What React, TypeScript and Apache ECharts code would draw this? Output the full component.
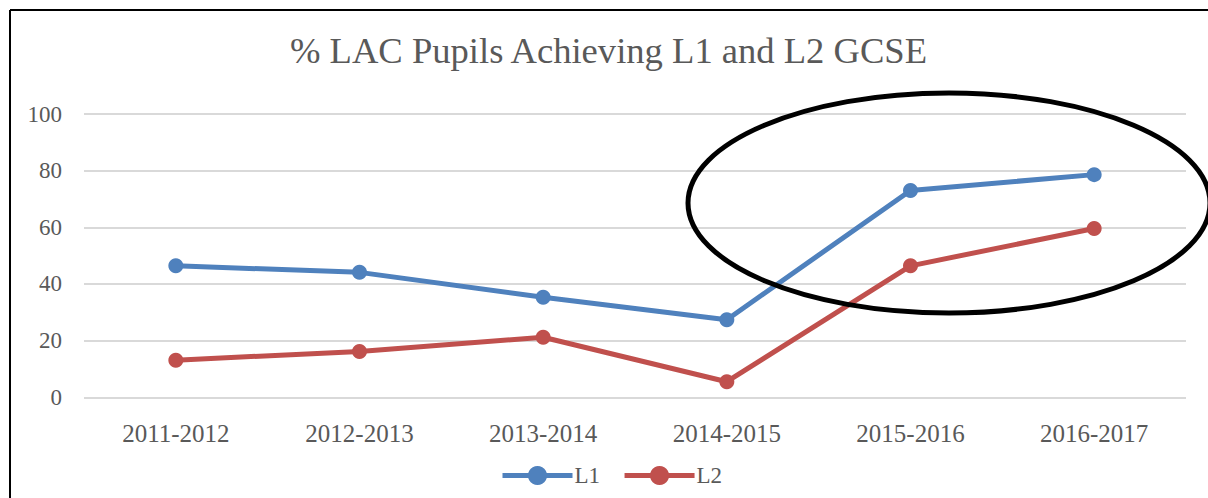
import React, { useEffect, useRef } from "react";
import * as echarts from "echarts";

const categories = ["2011-2012", "2012-2013", "2013-2014", "2014-2015", "2015-2016", "2016-2017"];
const l1Values = [46.4, 44.1, 35.3, 27.4, 73.0, 78.6];
const l2Values = [13.1, 16.2, 21.2, 5.5, 46.4, 59.6];
const seriesNames = ["L1", "L2"];
const yMin = 0;
const yMax = 100;
const yInterval = 20;
const titleText = "% LAC Pupils Achieving L1 and L2 GCSE";

const FONT = "'Liberation Serif', 'DejaVu Serif', serif";
const GREY = "#595959";

export default function App() {
  const ref = useRef<HTMLDivElement>(null);
  useEffect(() => {
    if (!ref.current) return;
    const chart = echarts.init(ref.current, undefined, { renderer: "svg" });
    chart.setOption({
      animation: false,
      backgroundColor: "#ffffff",
      title: {
        text: titleText,
        left: 285,
        top: 27,
        textStyle: { fontFamily: FONT, fontSize: 36.6, fontWeight: "normal", color: GREY },
      },
      legend: {
        bottom: 6,
        left: 495,
        itemWidth: 70,
        itemHeight: 24,
        itemGap: 22,
        lineStyle: { width: 5 },
        textStyle: { fontFamily: FONT, fontSize: 23, color: GREY, padding: [0, 0, 0, -3] },
        data: seriesNames,
      },
      grid: { left: 84, right: 22, top: 114, bottom: 100.7, containLabel: false },
      xAxis: {
        type: "category",
        data: categories,
        boundaryGap: true,
        axisLine: { show: false },
        axisTick: { show: false },
        axisLabel: { fontFamily: FONT, fontSize: 25, color: GREY, margin: 24 },
      },
      yAxis: {
        type: "value",
        min: yMin,
        max: yMax,
        interval: yInterval,
        axisLine: { show: false },
        axisTick: { show: false },
        axisLabel: { fontFamily: FONT, fontSize: 23, color: GREY, margin: 22 },
        splitLine: { lineStyle: { color: "#d9d9d9", width: 2 } },
      },
      series: [
        {
          name: seriesNames[0],
          type: "line",
          data: l1Values,
          symbol: "circle",
          symbolSize: 15,
          itemStyle: { color: "#4F81BD" },
          lineStyle: { color: "#4F81BD", width: 5 },
        },
        {
          name: seriesNames[1],
          type: "line",
          data: l2Values,
          symbol: "circle",
          symbolSize: 15,
          itemStyle: { color: "#C0504D" },
          lineStyle: { color: "#C0504D", width: 5 },
        },
      ],
      graphic: [
        {
          type: "line",
          shape: { x1: 10, y1: 10, x2: 1208, y2: 10 },
          style: { stroke: "#000", lineWidth: 2 },
          z: 100,
        },
        {
          type: "line",
          shape: { x1: 10, y1: 10, x2: 10, y2: 498 },
          style: { stroke: "#000", lineWidth: 2 },
          z: 100,
        },
        {
          type: "ellipse",
          shape: { cx: 949, cy: 203, rx: 261, ry: 110 },
          style: { stroke: "#000", lineWidth: 5, fill: "none" },
          z: 100,
        },
      ],
    });
    return () => chart.dispose();
  }, []);
  return (
    <div
      ref={ref}
      style={{ position: "fixed", left: 0, top: 0, width: 1208, height: 498 }}
    />
  );
}
